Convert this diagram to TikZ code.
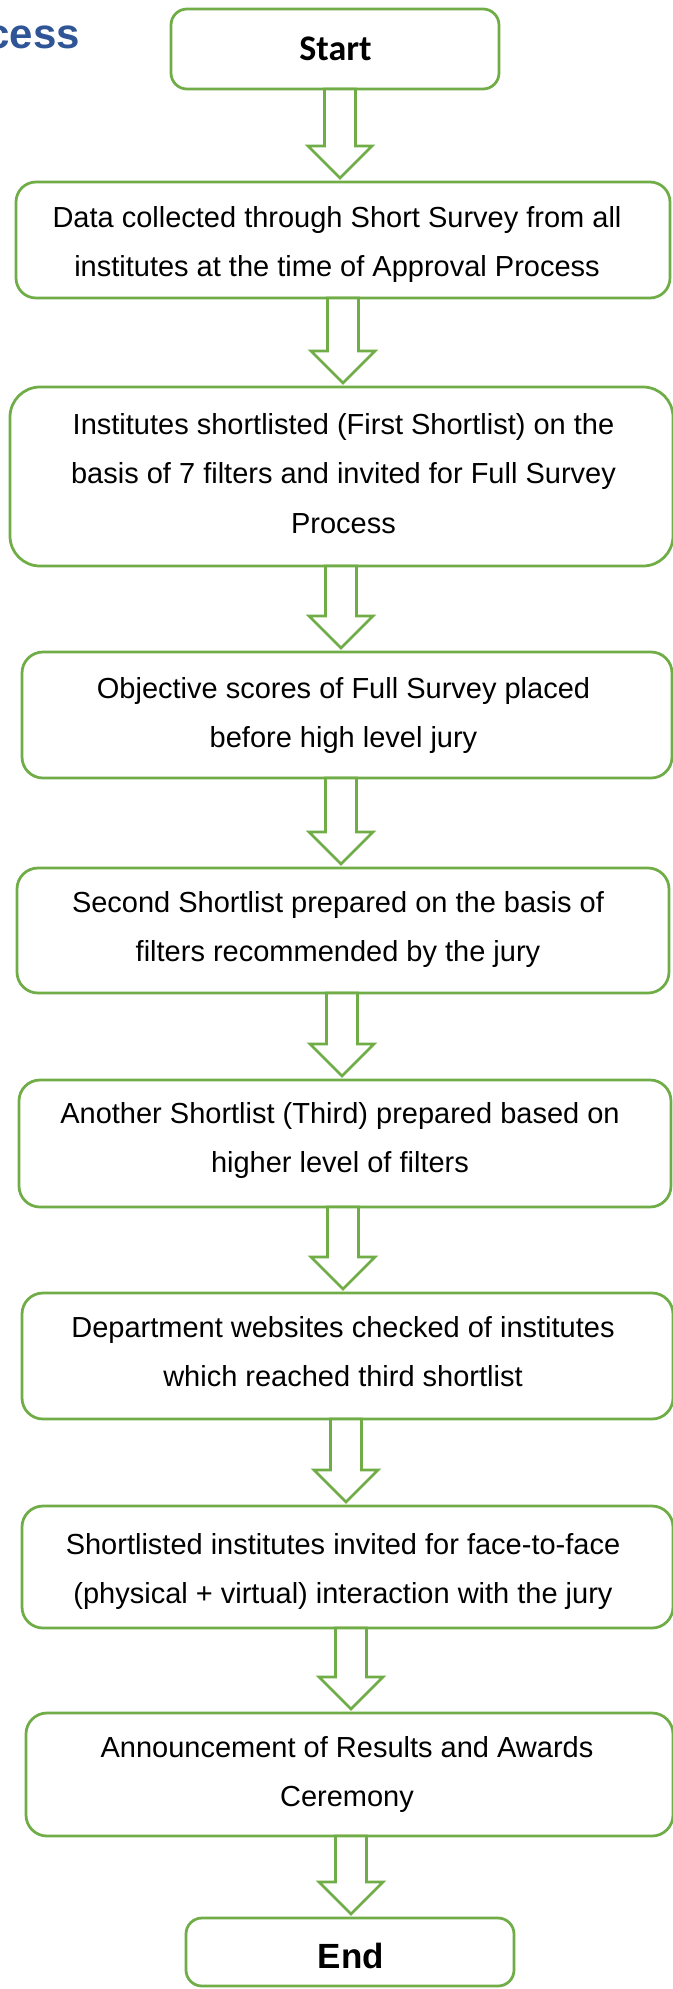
\documentclass[tikz,border=0pt]{standalone}
\usepackage{fontspec}
\setmainfont{Liberation Sans}
\newfontfamily\calfont{Carlito}
\usetikzlibrary{calc}
\definecolor{flowgreen}{HTML}{70AD47}
\definecolor{titleblue}{HTML}{2F5597}
\tikzset{
  box/.style={draw=flowgreen, line width=2.75pt, rectangle, inner sep=0pt, outer sep=0pt, fill=white},
  txt/.style={anchor=base, inner sep=0pt, outer sep=0pt},
  barr/.style={draw=flowgreen, line width=2.75pt, fill=white, line join=miter},
}
\newcommand\bodyfont{\fontsize{29}{49.5}\selectfont}
\newcommand\lns[1]{\bodyfont\begin{tabular}[t]{@{}c@{}}#1\end{tabular}}
% #1 from node, #2 to node, #3 centre x
\newcommand\blockarr[3]{%
  \draw[barr] let \p1=(#1.south), \p2=(#2.north) in
    (#3pt-15.5pt,\y1) -- (#3pt+15.5pt,\y1) -- (#3pt+15.5pt,\y2+36pt) --
    (#3pt+32pt,\y2+36pt) -- (#3pt,\y2+4pt) -- (#3pt-32pt,\y2+36pt) --
    (#3pt-15.5pt,\y2+36pt) -- cycle;}
\begin{document}
\begin{tikzpicture}[x=1pt,y=-1pt]
\fill[white] (0,0) rectangle (672,1989);
\useasboundingbox (0,0) rectangle (672,1989);

% title fragment
\node[anchor=base east, inner sep=0pt, text=titleblue, font=\bfseries\fontsize{42}{48}\selectfont] (title) at (80,48.5) {cess};

% boxes
\node[box, rounded corners=16pt, minimum width=328pt, minimum height=80pt] (start) at (335,49) {};
\node[box, rounded corners=20pt, minimum width=654pt, minimum height=116pt] (data) at (343,240) {};
\node[box, rounded corners=30pt, minimum width=663pt, minimum height=179pt] (inst) at (341.5,476.5) {};
\node[box, rounded corners=21pt, minimum width=650pt, minimum height=126pt] (obj) at (347,715) {};
\node[box, rounded corners=21pt, minimum width=652pt, minimum height=125pt] (sec) at (343,930.5) {};
\node[box, rounded corners=21pt, minimum width=652pt, minimum height=127pt] (ano) at (345,1143.5) {};
\node[box, rounded corners=21pt, minimum width=651pt, minimum height=126pt] (dep) at (347.5,1356) {};
\node[box, rounded corners=21pt, minimum width=651pt, minimum height=122pt] (sho) at (347.5,1567) {};
\node[box, rounded corners=21pt, minimum width=647pt, minimum height=123pt] (ann) at (349.5,1774.5) {};
\node[box, rounded corners=16pt, minimum width=328pt, minimum height=68pt] (end) at (350,1952) {};

% texts
\node[txt, font=\calfont\bfseries\fontsize{36}{40}\selectfont] (tstart) at (335.5,60) {Start};
\node[txt] (tdata) at (337,227) {\lns{Data collected through Short Survey from all\\institutes at the time of Approval Process}};
\node[txt] (tinst) at (343.5,434) {\lns{Institutes shortlisted (First Shortlist) on the\\basis of 7 filters and invited for Full Survey\\Process}};
\node[txt] (tobj) at (343.5,698) {\lns{Objective scores of Full Survey placed\\before high level jury}};
\node[txt] (tsec) at (338,912) {\lns{Second Shortlist prepared on the basis of\\filters recommended by the jury}};
\node[txt] (tano) at (340,1123) {\lns{Another Shortlist (Third) prepared based on\\higher level of filters}};
\node[txt] (tdep) at (343,1337) {\lns{Department websites checked of institutes\\which reached third shortlist}};
\node[txt] (tsho) at (343,1554) {\lns{Shortlisted institutes invited for face-to-face\\(physical + virtual) interaction with the jury}};
\node[txt] (tann) at (347,1757) {\lns{Announcement of Results and Awards\\Ceremony}};
\node[txt, font=\bfseries\fontsize{35}{40}\selectfont] (tend) at (351,1968) {End};

% block arrows
\blockarr{start}{data}{340}
\blockarr{data}{inst}{343}
\blockarr{inst}{obj}{341}
\blockarr{obj}{sec}{341}
\blockarr{sec}{ano}{342}
\blockarr{ano}{dep}{343}
\blockarr{dep}{sho}{346}
\blockarr{sho}{ann}{351}
\blockarr{ann}{end}{351}
\end{tikzpicture}
\end{document}
